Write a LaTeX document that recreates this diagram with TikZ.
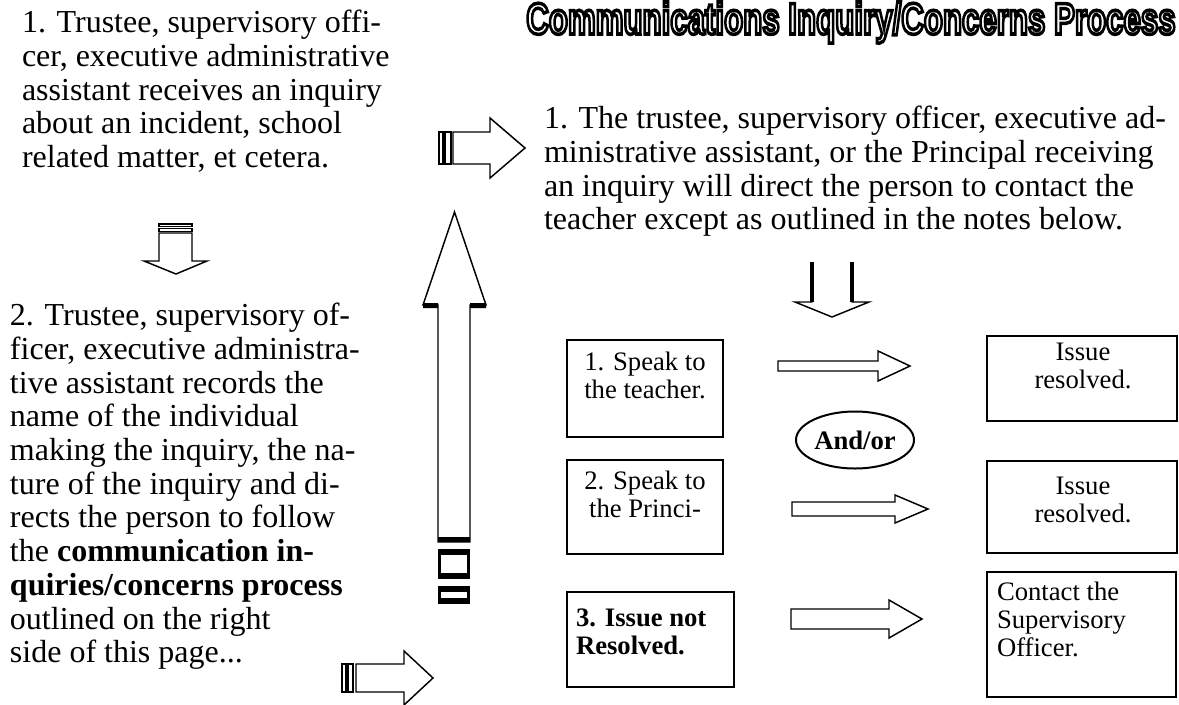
\documentclass[tikz,border=0pt]{standalone}
\usepackage{fontspec}
\setmainfont{Liberation Serif}
\newfontfamily\titlefont{Liberation Sans}
\usetikzlibrary{shapes.geometric}
\newcommand{\tightlines}{\lineskiplimit=-40pt\relax}
\newcommand{\outlinetext}[1]{\special{pdf:literal direct 1 Tr 0.8 w}#1\special{pdf:literal direct 0 Tr}}
\tikzset{
  txt/.style={inner sep=0pt, outer sep=0pt, align=left, anchor=north west, font=\fontsize{20}{21}\selectfont\tightlines},
  big/.style={inner sep=0pt, outer sep=0pt, align=left, anchor=north west, font=\fontsize{24}{25.3}\selectfont\tightlines},
  arr/.style={draw, line width=1.1pt, line join=miter, fill=white},
}
\begin{document}
\begin{tikzpicture}[x=0.75pt,y=-0.75pt]
\useasboundingbox (0,0) rectangle (1179,704);
% title
\node[inner sep=0pt, anchor=base west] (title) at (526,34) {\resizebox{487pt}{24pt}{\titlefont\bfseries\outlinetext{Communications Inquiry/Concerns Process}}};
% left texts
\node[big] (t1) at (22,10) {1. Trustee, supervisory offi-\\cer, executive administrative\\assistant receives an inquiry\\about an incident, school\\related matter, et cetera.};
\node[big] (t2) at (10,303) {2. Trustee, supervisory of-\\ficer, executive administra-\\tive assistant records the\\name of the individual\\making the inquiry, the na-\\ture of the inquiry and di-\\rects the person to follow\\the \textbf{communication in-}\\\textbf{quiries/concerns process}\\outlined on the right\\side of this page...};
\node[big] (t3) at (544,106) {1. The trustee, supervisory officer, executive ad-\\ministrative assistant, or the Principal receiving\\an inquiry will direct the person to contact the\\teacher except as outlined in the notes below.};
% boxes left column
\draw[line width=1.5pt] (567,340) rectangle (723,437);
\node[txt, anchor=north, align=center] (b1) at (645,352) {1. Speak to\\the teacher.};
\draw[line width=1.5pt] (567,460) rectangle (723,554);
\node[txt, anchor=north, align=center] (b2) at (645,471) {2. Speak to\\the Princi-};
\draw[line width=1.5pt] (567,592) rectangle (734,687);
\node[txt, anchor=north west, font=\fontsize{20}{21}\selectfont\bfseries\tightlines] (b3) at (576,609) {3. Issue not\\Resolved.};
% right column
\draw[line width=1.5pt] (987,336) rectangle (1177,421);
\node[txt, anchor=north, align=center] (r1) at (1083,343) {Issue\\resolved.};
\draw[line width=1.5pt] (987,461) rectangle (1177,553);
\node[txt, anchor=north, align=center] (r2) at (1083,477) {Issue\\resolved.};
\draw[line width=1.5pt] (987,572) rectangle (1176,697);
\node[txt] (r3) at (997,582) {Contact the\\Supervisory\\Officer.};
% and/or
\node[draw, ellipse, line width=1.5pt, minimum width=88.5pt, minimum height=42.75pt, inner sep=0pt, font=\fontsize{20}{21}\selectfont\bfseries] (andor) at (855,440) {And/or};
% right arrows
\draw[arr] (778,361) -- (878,361) -- (878,351) -- (910,366) -- (878,381) -- (878,371) -- (778,371) -- cycle;
\draw[arr] (792,502) -- (895,502) -- (895,495) -- (928,509) -- (895,523) -- (895,516) -- (792,516) -- cycle;
\draw[arr] (791,609) -- (889,609) -- (889,600) -- (922,619) -- (889,638) -- (889,629) -- (791,629) -- cycle;
% down arrow under right text
\draw[arr] (812,262) -- (812,302) -- (795,302) -- (832,317) -- (869,302) -- (852,302) -- (852,262);
\draw[line width=3pt] (812,262) -- (812,302) (852,262) -- (852,302);
% left down arrow
\draw[arr] (159,233) -- (159,261) -- (144,261) -- (176,274) -- (207,261) -- (192,261) -- (192,233) -- cycle;
\draw[line width=0.9pt] (159,224) rectangle (192,226.5) (159,228.5) rectangle (192,231.5);
% top striped right arrow
\draw[arr] (453,132) -- (490,132) -- (490,118) -- (525,148) -- (490,178) -- (490,164) -- (453,164) -- cycle;
\draw[line width=1pt] (439,132) rectangle (443,164) (445,132) rectangle (451,164);
% bottom striped right arrow
\draw[arr] (356,664) -- (404,664) -- (404,651) -- (433,678) -- (404,705) -- (404,692) -- (356,692) -- cycle;
\draw[line width=1pt] (342,664) rectangle (346,692) (348,664) rectangle (353,692);
% big up arrow
\draw[arr] (438,542) -- (438,305) -- (423,305) -- (454.5,212) -- (486,305) -- (470,305) -- (470,542) -- cycle;
\fill (423,303) rectangle (438,308) (470,303) rectangle (486,308);
\fill (438,537) rectangle (470,542);
\fill (438,549) rectangle (470,579);
\fill[white] (441,555) rectangle (467,573);
\fill (438,586) rectangle (470,604);
\fill[white] (441,592) rectangle (467,598);
\end{tikzpicture}
\end{document}
